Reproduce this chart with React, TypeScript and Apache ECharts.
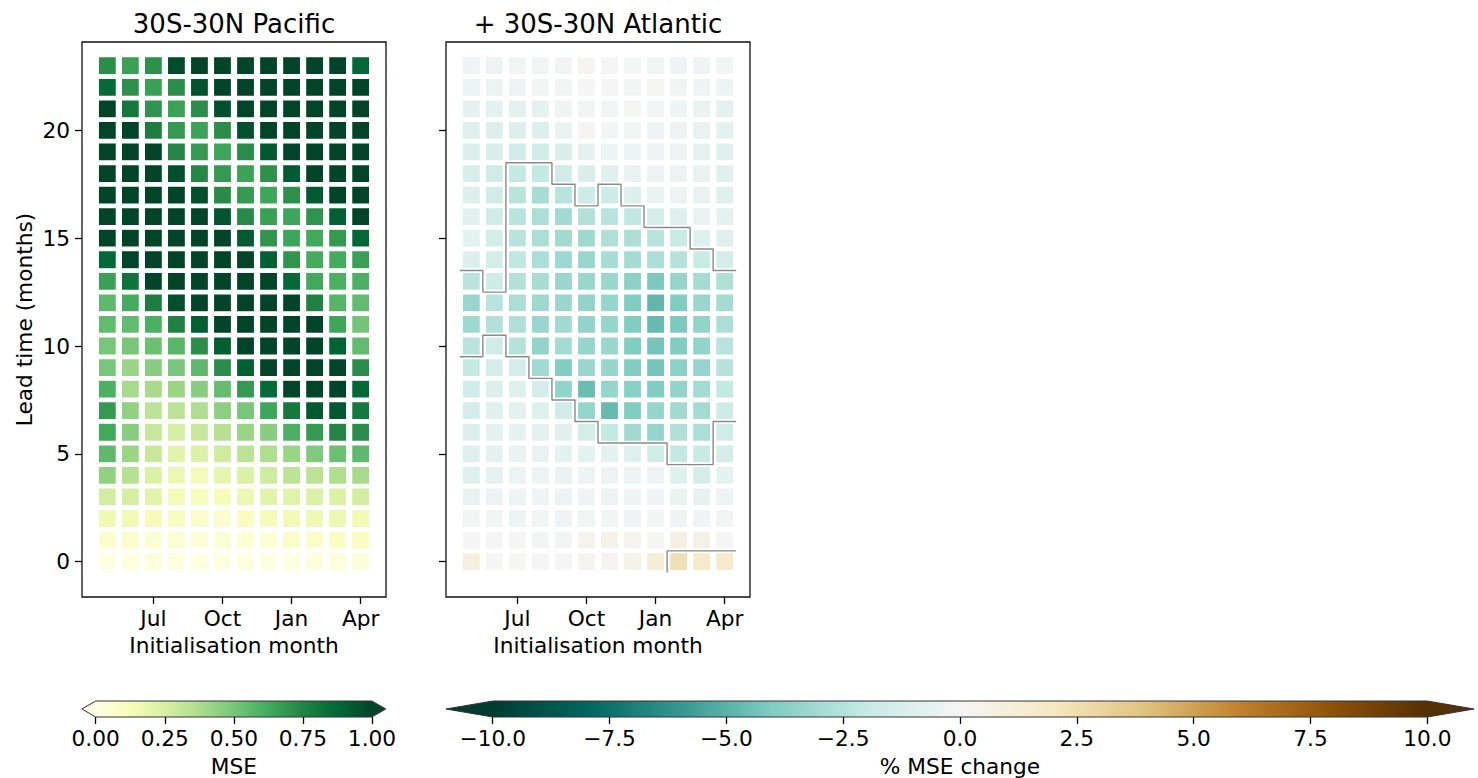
import React, { useEffect, useRef } from "react";
import * as echarts from "echarts";

// Initialisation months (columns 0..11) and tick positions
const months = ["May", "Jun", "Jul", "Aug", "Sep", "Oct", "Nov", "Dec", "Jan", "Feb", "Mar", "Apr"];
const monthTicks = [2, 5, 8, 11];
const leadTicks = [0, 5, 10, 15, 20];

// MSE, 30S-30N Pacific; index = lead time (months) 0..23, values per initialisation month
const pacificMSE: number[][] = [
  [0.02, 0.02, 0.03, 0.03, 0.02, 0.02, 0.02, 0.01, 0.02, 0.03, 0.03, 0.04],
  [0.07, 0.07, 0.06, 0.06, 0.05, 0.05, 0.05, 0.05, 0.08, 0.08, 0.09, 0.1],
  [0.16, 0.15, 0.13, 0.11, 0.08, 0.07, 0.1, 0.13, 0.15, 0.16, 0.17, 0.15],
  [0.27, 0.26, 0.21, 0.14, 0.12, 0.13, 0.17, 0.21, 0.22, 0.24, 0.24, 0.27],
  [0.44, 0.35, 0.24, 0.17, 0.14, 0.19, 0.24, 0.28, 0.33, 0.33, 0.37, 0.39],
  [0.56, 0.42, 0.3, 0.21, 0.24, 0.28, 0.33, 0.37, 0.42, 0.48, 0.53, 0.56],
  [0.63, 0.46, 0.3, 0.26, 0.3, 0.35, 0.42, 0.46, 0.6, 0.68, 0.75, 0.72],
  [0.68, 0.44, 0.33, 0.33, 0.37, 0.45, 0.5, 0.64, 0.8, 0.93, 0.93, 0.8],
  [0.6, 0.39, 0.39, 0.42, 0.46, 0.54, 0.68, 0.86, 1, 1, 1, 0.87],
  [0.5, 0.42, 0.46, 0.5, 0.56, 0.72, 0.9, 1, 1, 1, 1, 0.72],
  [0.5, 0.5, 0.53, 0.57, 0.72, 0.91, 1, 1, 1, 1, 0.89, 0.55],
  [0.55, 0.55, 0.6, 0.76, 0.91, 1, 1, 1, 1, 1, 0.64, 0.51],
  [0.56, 0.62, 0.78, 0.96, 1, 1, 1, 1, 1, 0.76, 0.58, 0.55],
  [0.66, 0.82, 1, 1, 1, 1, 1, 1, 0.87, 0.63, 0.6, 0.6],
  [0.87, 1, 1, 1, 1, 1, 1, 0.9, 0.7, 0.62, 0.62, 0.66],
  [1, 1, 1, 1, 1, 1, 0.92, 0.7, 0.64, 0.63, 0.68, 0.87],
  [1, 1, 1, 1, 1, 0.94, 0.73, 0.66, 0.64, 0.7, 0.9, 1],
  [1, 1, 1, 1, 0.96, 0.73, 0.68, 0.64, 0.71, 0.92, 1, 1],
  [1, 1, 1, 0.96, 0.74, 0.68, 0.65, 0.71, 0.92, 1, 1, 1],
  [1, 1, 1, 0.74, 0.68, 0.64, 0.72, 0.93, 1, 1, 1, 1],
  [1, 1, 0.78, 0.68, 0.65, 0.72, 0.96, 1, 1, 1, 1, 1],
  [1, 0.8, 0.7, 0.65, 0.72, 0.96, 1, 1, 1, 1, 1, 1],
  [0.86, 0.71, 0.66, 0.72, 0.95, 1, 1, 1, 1, 1, 1, 1],
  [0.72, 0.66, 0.71, 0.97, 1, 1, 1, 1, 1, 1, 1, 0.87],
];

// % MSE change when adding 30S-30N Atlantic; index = lead time 0..23
const atlanticChange: number[][] = [
  [0.9, 0.05, 0.05, 0, 0, 0.25, 0.25, 0.45, 1.3, 2.4, 1.7, 1.7],
  [0, 0, 0, -0.1, -0.1, 0.3, 0.5, 0.3, 0.05, 0.7, 0.6, 0],
  [-0.2, -0.2, -0.3, -0.2, -0.3, -0.2, -0.2, -0.3, -0.2, -0.3, -0.3, -0.2],
  [-0.5, -0.4, -0.3, -0.3, -0.4, -0.3, -0.4, -0.3, -0.3, -0.45, -0.6, -0.4],
  [-1.0, -0.6, -0.4, -0.4, -0.5, -0.4, -0.4, -0.4, -0.4, -1.0, -1.4, -0.8],
  [-1.0, -0.7, -0.5, -0.5, -0.8, -0.8, -0.8, -1.0, -1.6, -2.1, -2.0, -1.4],
  [-1.1, -0.8, -0.6, -0.7, -0.9, -1.5, -2.1, -3.1, -3.4, -2.7, -2.8, -1.6],
  [-1.4, -0.9, -0.8, -1.0, -1.6, -3.4, -4.7, -4.0, -3.4, -3.1, -3.0, -1.7],
  [-1.6, -1.1, -0.9, -1.4, -3.5, -4.6, -3.4, -3.8, -4.0, -3.5, -3.0, -2.1],
  [-2.1, -1.4, -1.4, -3.1, -4.0, -3.3, -3.4, -4.0, -4.3, -3.7, -3.4, -2.5],
  [-2.4, -1.6, -2.5, -3.5, -3.0, -3.4, -3.3, -4.0, -4.3, -4.0, -3.5, -2.4],
  [-3.2, -2.6, -2.7, -3.3, -3.1, -3.5, -3.4, -4.0, -4.7, -4.1, -3.5, -2.8],
  [-3.3, -2.4, -2.8, -3.2, -3.3, -3.5, -3.4, -4.0, -4.8, -4.0, -3.3, -3.0],
  [-2.4, -1.7, -2.6, -2.9, -3.3, -3.3, -3.3, -3.7, -4.1, -3.4, -3.0, -2.7],
  [-1.1, -1.5, -2.2, -2.8, -3.2, -3.3, -2.9, -3.0, -2.8, -2.5, -1.9, -1.4],
  [-0.8, -1.5, -2.4, -2.8, -3.1, -3.2, -2.7, -2.8, -2.4, -1.9, -1.0, -0.9],
  [-0.9, -1.6, -2.4, -2.8, -3.1, -2.6, -2.4, -2.2, -1.5, -1.0, -0.5, -0.8],
  [-1.1, -1.6, -2.4, -2.9, -2.4, -1.7, -1.7, -1.1, -0.5, -0.35, -0.5, -0.9],
  [-1.2, -1.6, -2.1, -2.1, -1.6, -1.2, -0.9, -0.5, -0.35, -0.35, -0.5, -0.9],
  [-1.1, -1.3, -1.6, -1.6, -1.2, -0.7, -0.4, -0.3, -0.3, -0.35, -0.6, -0.9],
  [-1.0, -1.1, -1.1, -1.05, -0.5, 0.1, -0.1, -0.2, -0.3, -0.35, -0.5, -0.8],
  [-0.7, -0.8, -0.8, -0.7, -0.25, -0.15, -0.1, 0.05, -0.1, -0.3, -0.45, -0.7],
  [-0.4, -0.4, -0.4, -0.2, -0.15, 0, 0, -0.1, 0.05, -0.2, -0.3, -0.4],
  [-0.3, -0.4, -0.2, -0.15, -0.15, 0.1, 0, -0.05, -0.2, -0.3, -0.3, -0.2],
];

// Significance outlines (cell-boundary coordinates: [month index, lead])
const contourUpper: number[][] = [
  [-0.5, 13.5], [0.5, 13.5], [0.5, 12.5], [1.5, 12.5], [1.5, 18.5], [3.5, 18.5], [3.5, 17.5],
  [4.5, 17.5], [4.5, 16.5], [5.5, 16.5], [5.5, 17.5], [6.5, 17.5], [6.5, 16.5], [7.5, 16.5],
  [7.5, 15.5], [9.5, 15.5], [9.5, 14.5], [10.5, 14.5], [10.5, 13.5], [11.5, 13.5],
];
const contourLower: number[][] = [
  [-0.5, 9.5], [0.5, 9.5], [0.5, 10.5], [1.5, 10.5], [1.5, 9.5], [2.5, 9.5], [2.5, 8.5],
  [3.5, 8.5], [3.5, 7.5], [4.5, 7.5], [4.5, 6.5], [5.5, 6.5], [5.5, 5.5], [8.5, 5.5],
  [8.5, 4.5], [10.5, 4.5], [10.5, 6.5], [11.5, 6.5],
];
const contourBottom: number[][] = [[8.5, -0.5], [8.5, 0.5], [11.5, 0.5]];

// Colour maps
const ylgn = ["#ffffe5", "#f7fcb9", "#d9f0a3", "#addd8e", "#78c679", "#41ab5d", "#238443", "#006837", "#004529"];
const brbgR = ["#003c30", "#01665e", "#35978f", "#80cdc1", "#c7eae5", "#f5f5f5", "#f6e8c3", "#dfc27d", "#bf812d", "#8c510a", "#543005"];

const FONT = "DejaVu Sans";
const FS = 21.7;

function toPoints(grid: number[][]) {
  const out: number[][] = [];
  grid.forEach((row, lead) => row.forEach((v, m) => out.push([m, lead, v])));
  return out;
}

function minusFmt(v: number, d: number) {
  const s = Math.abs(v).toFixed(d);
  return v < 0 ? "\u2212" + s : s;
}

function colorbarRender(lo: number, hi: number, colors: string[]) {
  return (_params: any, api: any) => {
    const p0 = api.coord([lo, 0]);
    const p1 = api.coord([hi, 1]);
    const x0 = p0[0], x1 = p1[0], yb = p0[1], yt = p1[1];
    const mid = (yt + yb) / 2;
    const ext = (x1 - x0) * 0.05;
    const stops = colors.map((c, i) => ({ offset: i / (colors.length - 1), color: c }));
    return {
      type: "group",
      children: [
        {
          type: "rect",
          shape: { x: x0, y: yt, width: x1 - x0, height: yb - yt },
          style: { fill: { type: "linear", x: 0, y: 0, x2: 1, y2: 0, colorStops: stops } },
        },
        { type: "polygon", shape: { points: [[x0 + 0.5, yt], [x0 - ext, mid], [x0 + 0.5, yb]] }, style: { fill: colors[0] } },
        { type: "polygon", shape: { points: [[x1 - 0.5, yt], [x1 + ext, mid], [x1 - 0.5, yb]] }, style: { fill: colors[colors.length - 1] } },
        {
          type: "polygon",
          shape: { points: [[x0, yt], [x1, yt], [x1 + ext, mid], [x1, yb], [x0, yb], [x0 - ext, mid]] },
          style: { fill: "none", stroke: "#333", lineWidth: 1 },
        },
      ],
    };
  };
}

export default function App() {
  const ref = useRef<HTMLDivElement>(null);

  useEffect(() => {
    if (!ref.current) return;
    const chart = echarts.init(ref.current, undefined, { renderer: "svg" });

    const panelX = (gi: number, showName: boolean) => ({
      type: "value",
      gridIndex: gi,
      min: -1.1,
      max: 12.1,
      axisLine: { show: false, onZero: false },
      splitLine: { show: false },
      axisTick: { show: true, inside: false, customValues: monthTicks, length: 7, lineStyle: { color: "#000", width: 1.3 } },
      axisLabel: {
        show: true,
        customValues: monthTicks,
        formatter: (v: number) => months[Math.round(v)],
        fontSize: FS,
        color: "#000",
        fontFamily: FONT,
        margin: 10,
      },
      name: showName ? "Initialisation month" : "",
      nameLocation: "middle",
      nameGap: 37,
      nameTextStyle: { fontSize: FS, color: "#000", fontFamily: FONT },
    });

    const panelY = (gi: number, showLabels: boolean) => ({
      type: "value",
      gridIndex: gi,
      min: -1.64,
      max: 24.1,
      axisLine: { show: false, onZero: false },
      splitLine: { show: false },
      axisTick: { show: true, inside: false, customValues: leadTicks, length: 7, lineStyle: { color: "#000", width: 1.3 } },
      axisLabel: {
        show: showLabels,
        customValues: leadTicks,
        fontSize: FS,
        color: "#000",
        fontFamily: FONT,
        margin: 12,
      },
      name: showLabels ? "Lead time (months)" : "",
      nameLocation: "middle",
      nameGap: 47,
      nameRotate: 90,
      nameTextStyle: { fontSize: FS, color: "#000", fontFamily: FONT },
    });

    const cbX = (gi: number, lo: number, hi: number, step: number, dec: number, name: string) => ({
      type: "value",
      gridIndex: gi,
      min: lo,
      max: hi,
      interval: step,
      axisLine: { show: false, onZero: false },
      splitLine: { show: false },
      axisTick: { show: true, length: 7, lineStyle: { color: "#000", width: 1.3 } },
      axisLabel: {
        formatter: (v: number) => minusFmt(v, dec),
        fontSize: FS,
        color: "#000",
        fontFamily: FONT,
        margin: 10,
        showMinLabel: true,
        showMaxLabel: true,
      },
      name,
      nameLocation: "middle",
      nameGap: 38,
      nameTextStyle: { fontSize: FS, color: "#000", fontFamily: FONT },
    });

    const cbY = (gi: number) => ({ type: "value", gridIndex: gi, min: 0, max: 1, show: false });

    const cellStyle = { borderColor: "#ffffff", borderWidth: 1.2, opacity: 1 };

    const option: any = {
      animation: false,
      backgroundColor: "#ffffff",
      textStyle: { fontFamily: FONT },
      grid: [
        { left: 82, top: 42, width: 304, height: 555, show: true, borderColor: "#111", borderWidth: 1.3, backgroundColor: "transparent" },
        { left: 446, top: 42, width: 304, height: 555, show: true, borderColor: "#111", borderWidth: 1.3, backgroundColor: "transparent" },
        { left: 95.7, top: 701, width: 276.3, height: 16.5 },
        { left: 492.7, top: 701, width: 934.6, height: 16.5 },
      ],
      xAxis: [panelX(0, true), panelX(1, true), cbX(2, 0, 1, 0.25, 2, "MSE"), cbX(3, -10, 10, 2.5, 1, "% MSE change")],
      yAxis: [panelY(0, true), panelY(1, false), cbY(2), cbY(3)],
      visualMap: [
        { type: "continuous", show: false, seriesIndex: 0, dimension: 2, min: 0, max: 1, inRange: { color: ylgn, opacity: 1 } },
        { type: "continuous", show: false, seriesIndex: 1, dimension: 2, min: -10, max: 10, inRange: { color: brbgR, opacity: 1 } },
      ],
      graphic: [
        { type: "text", x: 234, y: 24, style: { text: "30S-30N Pacific", font: `26px "${FONT}"`, fill: "#000", textAlign: "center", textVerticalAlign: "middle" } },
        { type: "text", x: 598, y: 24, style: { text: "+ 30S-30N Atlantic", font: `26px "${FONT}"`, fill: "#000", textAlign: "center", textVerticalAlign: "middle" } },
      ],
      series: [
        {
          type: "scatter",
          xAxisIndex: 0,
          yAxisIndex: 0,
          data: toPoints(pacificMSE),
          symbol: "rect",
          symbolSize: 18,
          itemStyle: cellStyle,
          silent: true,
        },
        {
          type: "scatter",
          xAxisIndex: 1,
          yAxisIndex: 1,
          data: toPoints(atlanticChange),
          symbol: "rect",
          symbolSize: 18,
          itemStyle: cellStyle,
          silent: true,
        },
        ...[contourUpper, contourLower, contourBottom].map((c) => ({
          type: "line",
          xAxisIndex: 1,
          yAxisIndex: 1,
          data: c,
          symbol: "none",
          z: 5,
          silent: true,
          lineStyle: { color: "#8a8a8a", width: 1.4 },
        })),
        {
          type: "custom",
          xAxisIndex: 2,
          yAxisIndex: 2,
          data: [[0, 0]],
          clip: false,
          silent: true,
          renderItem: colorbarRender(0, 1, ylgn),
        },
        {
          type: "custom",
          xAxisIndex: 3,
          yAxisIndex: 3,
          data: [[-10, 0]],
          clip: false,
          silent: true,
          renderItem: colorbarRender(-10, 10, brbgR),
        },
      ],
    };

    chart.setOption(option);
    return () => chart.dispose();
  }, []);

  return (
    <div
      ref={ref}
      style={{ position: "absolute", left: 0, top: 0, width: 1478, height: 778, background: "#fff" }}
    />
  );
}
